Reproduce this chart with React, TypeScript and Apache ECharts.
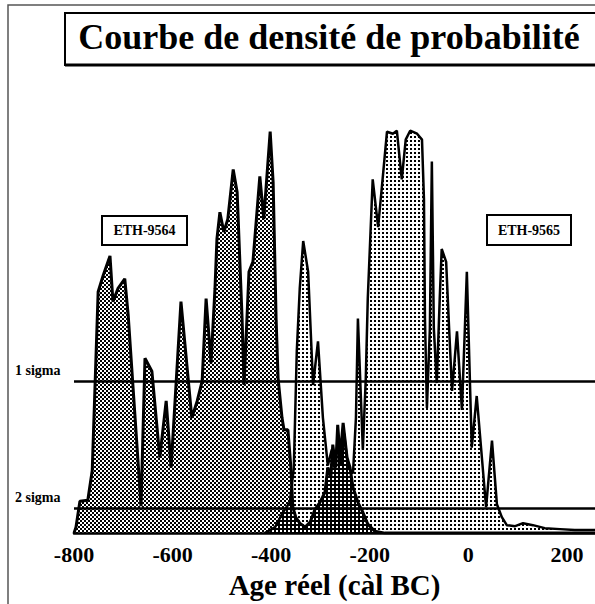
import React, { useEffect, useRef } from "react";
import * as echarts from "echarts";

// ETH-9564 probability density (calendar year, relative density)
const years9564 = [-800, -796, -788, -772, -763, -751, -741, -727, -721, -711, -697, -690, -664, -656, -642, -626, -613, -603, -583, -561, -550, -540, -532, -522, -514, -510, -504, -496, -488, -477, -469, -459, -455, -445, -437, -423, -415, -402, -396, -390, -386, -378, -374, -366, -360, -356, -350, -342, -331, -321, -311, -301, -291, -285, -279, -275, -269, -265, -260, -254, -246, -240, -234, -224, -214, -204, -190, -169, 257];
const dens9564 = [0, 6, 32, 33, 63, 243, 259, 279, 233, 246, 256, 219, 27, 176, 163, 76, 133, 66, 233, 116, 133, 153, 236, 171, 246, 296, 323, 303, 316, 366, 343, 216, 149, 263, 273, 359, 316, 404, 353, 216, 156, 116, 104, 104, 66, 26, 16, 10, 6, 11, 24, 31, 41, 66, 56, 89, 66, 109, 76, 111, 76, 66, 46, 31, 21, 9, 2, 0, 0];

// ETH-9565 probability density
const years9565 = [-413, -392, -376, -362, -354, -348, -342, -335, -325, -315, -305, -295, -285, -277, -271, -264, -258, -252, -244, -234, -228, -224, -214, -208, -204, -194, -183, -173, -165, -153, -145, -135, -127, -118, -104, -94, -90, -88, -84, -78, -74, -70, -64, -58, -54, -45, -39, -33, -23, -13, -7, -3, 7, 17, 36, 48, 58, 68, 78, 95, 111, 131, 155, 186, 216, 257];
const dens9565 = [0, 6, 21, 31, 66, 183, 246, 294, 263, 149, 193, 116, 68, 84, 64, 96, 68, 100, 66, 60, 116, 216, 84, 156, 236, 356, 308, 361, 404, 402, 405, 356, 396, 405, 402, 396, 336, 216, 126, 206, 374, 206, 151, 236, 286, 273, 206, 143, 203, 124, 206, 263, 86, 138, 26, 93, 29, 16, 8, 7, 10, 8, 5, 4, 3, 3];

const xTickValues = [-800, -600, -400, -200, 0, 200];
const sigmaNames = ["1 sigma", "2 sigma"];
const sigmaValues = [153, 25];
const sampleNames = ["ETH-9564", "ETH-9565"];

const FONT = "'Liberation Serif', 'Times New Roman', serif";

function makeDots(cells: number[][], fallback: string): any {
  try {
    const c = document.createElement("canvas");
    c.width = 4;
    c.height = 4;
    const ctx = c.getContext("2d");
    if (!ctx) return fallback;
    ctx.clearRect(0, 0, 4, 4);
    ctx.fillStyle = "#000";
    cells.forEach(([x, y]) => ctx.fillRect(x, y, 2, 2));
    return { image: c, repeat: "repeat" };
  } catch (e) {
    return fallback;
  }
}

export default function App() {
  const ref = useRef<HTMLDivElement>(null);

  useEffect(() => {
    if (!ref.current) return;
    const chart = echarts.init(ref.current, null, { renderer: "svg" });

    const fill9564 = makeDots([[0, 0], [2, 2]], "rgba(0,0,0,0.45)");
    const fill9565 = makeDots([[2, 0]], "rgba(0,0,0,0.2)");

    const option: any = {
      animation: false,
      backgroundColor: "#fff",
      grid: { left: 74, right: 0, top: 86, bottom: 68 },
      xAxis: {
        type: "value",
        min: -800,
        max: 257,
        interval: 200,
        axisLine: { show: true, onZero: false, lineStyle: { color: "#000", width: 2.5 } },
        axisTick: { show: false },
        splitLine: { show: false },
        axisLabel: {
          color: "#000",
          fontFamily: FONT,
          fontWeight: "bold",
          fontSize: 22,
          margin: 10,
          showMaxLabel: false,
          formatter: (v: number) => (xTickValues.includes(v) ? String(v) : ""),
        },
        name: "Age réel (càl BC)",
        nameLocation: "middle",
        nameGap: 34,
        nameTextStyle: { color: "#000", fontFamily: FONT, fontWeight: "bold", fontSize: 29 },
      },
      yAxis: { type: "value", min: 0, max: 450, show: false },
      series: [
        {
          type: "line",
          name: sampleNames[1],
          data: years9565.map((x, i) => [x, dens9565[i]]),
          symbol: "none",
          showSymbol: false,
          lineStyle: { color: "#000", width: 2.5 },
          areaStyle: { color: fill9565, opacity: 1, origin: "start" },
          z: 2,
        },
        {
          type: "line",
          name: sampleNames[0],
          data: years9564.map((x, i) => [x, dens9564[i]]),
          symbol: "none",
          showSymbol: false,
          lineStyle: { color: "#000", width: 3 },
          areaStyle: { color: fill9564, opacity: 1, origin: "start" },
          z: 3,
          markLine: {
            silent: true,
            symbol: "none",
            label: { show: false },
            lineStyle: { color: "#000", width: 2.5, type: "solid" },
            data: sigmaValues.map((v) => ({ yAxis: v })),
          },
        },
      ],
    };
    chart.setOption(option);

    const sigmaTexts = sigmaValues.map((v, i) => {
      const p = chart.convertToPixel({ gridIndex: 0 }, [-800, v]) as number[];
      return {
        type: "text",
        left: 15,
        top: p[1] - 18,
        style: { text: sigmaNames[i], fill: "#000", font: `bold 14px ${FONT}` },
      };
    });

    chart.setOption({
      graphic: [
        {
          type: "rect",
          shape: { x: 8, y: 5, width: 700, height: 700 },
          style: { fill: "none", stroke: "#555", lineWidth: 1.5 },
          silent: true,
        },
        {
          type: "rect",
          shape: { x: 65, y: 13, width: 600, height: 52 },
          style: { fill: "#fff", stroke: "#000", lineWidth: 2 },
          silent: true,
        },
        {
          type: "line",
          shape: { x1: 65, y1: 65, x2: 600, y2: 65 },
          style: { stroke: "#000", lineWidth: 3 },
          silent: true,
        },
        {
          type: "text",
          x: 329,
          y: 37,
          style: {
            text: "Courbe de densité de probabilité",
            fill: "#000",
            font: `bold 36px ${FONT}`,
            textAlign: "center",
            textVerticalAlign: "middle",
          },
        },
        {
          type: "rect",
          shape: { x: 102, y: 216, width: 85, height: 29 },
          style: { fill: "#fff", stroke: "#000", lineWidth: 2 },
          z: 10,
        },
        {
          type: "text",
          x: 144.5,
          y: 230.5,
          z: 11,
          style: {
            text: sampleNames[0],
            fill: "#000",
            font: `bold 14px ${FONT}`,
            textAlign: "center",
            textVerticalAlign: "middle",
          },
        },
        {
          type: "rect",
          shape: { x: 487, y: 215, width: 84, height: 30 },
          style: { fill: "#fff", stroke: "#000", lineWidth: 2 },
          z: 10,
        },
        {
          type: "text",
          x: 529,
          y: 230,
          z: 11,
          style: {
            text: sampleNames[1],
            fill: "#000",
            font: `bold 14px ${FONT}`,
            textAlign: "center",
            textVerticalAlign: "middle",
          },
        },
        ...sigmaTexts,
      ],
    });

    return () => chart.dispose();
  }, []);

  return (
    <div
      ref={ref}
      style={{ position: "absolute", left: 0, top: 0, width: 595, height: 604 }}
    />
  );
}
